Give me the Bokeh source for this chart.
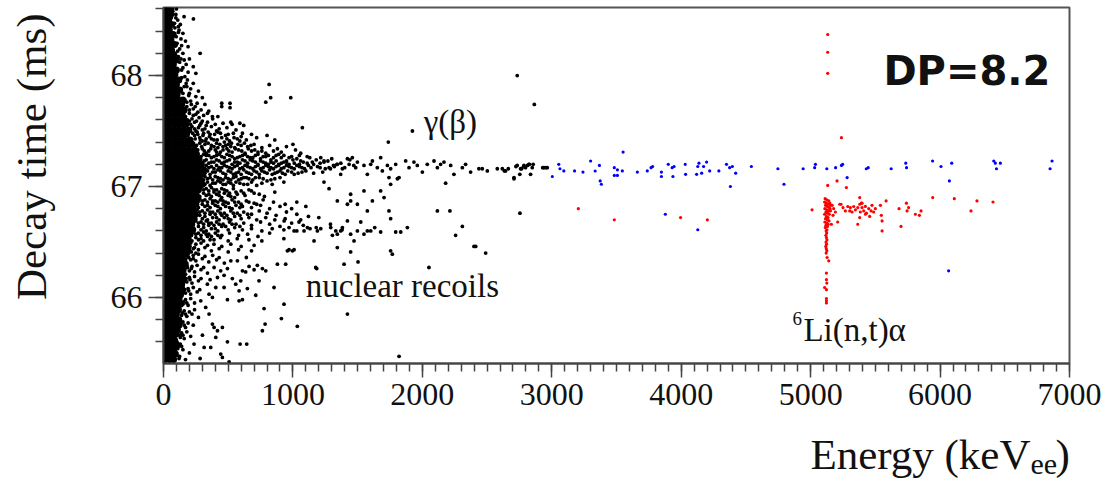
import math
from bokeh.plotting import figure
from bokeh.models import Range1d, SingleIntervalTicker, Label
from bokeh.layouts import row, column
from bokeh.embed import file_html
from bokeh.resources import INLINE

# ---------------- data ----------------
x_range = (0, 7000)
y_range = (65.405, 68.613)

# dense core of the event cloud near 0 keV: (decay time, [energies])
core_rows = [
    (68.59, [6, 38]), (68.55, [18, 55]), (68.50, [4, 40]), (68.46, [20, 62]), (68.41, [8, 45]),
    (68.37, [5, 40, 75]), (68.32, [22, 58]), (68.28, [8, 45, 85]), (68.23, [25, 62]),
    (68.19, [6, 42, 80]), (68.14, [20, 58, 98]), (68.10, [4, 40, 76]), (68.05, [24, 62, 100]), (68.01, [10, 48, 88]),
    (67.96, [5, 42, 80, 118]), (67.92, [22, 60, 100]), (67.87, [8, 46, 84, 125]), (67.83, [26, 64, 105]),
    (67.78, [6, 44, 82, 120, 150]), (67.74, [24, 62, 100, 140]), (67.69, [10, 48, 86, 126, 160]),
    (67.65, [28, 66, 104, 145]), (67.60, [4, 42, 80, 118, 156]),
    (67.56, [20, 58, 96, 134, 172]), (67.51, [6, 44, 82, 120, 158, 196]), (67.47, [26, 64, 102, 140, 178]),
    (67.42, [10, 48, 86, 124, 162, 205]),
    (67.38, [28, 66, 104, 142, 180, 220]), (67.33, [8, 46, 84, 122, 160, 198, 240]),
    (67.29, [24, 62, 100, 138, 176, 214, 255]), (67.24, [6, 44, 82, 120, 158, 196, 236, 275]),
    (67.20, [22, 60, 98, 136, 174, 212, 250, 292]), (67.15, [4, 42, 80, 118, 156, 194, 232, 272, 310]),
    (67.11, [26, 64, 102, 140, 178, 216, 256, 296]), (67.06, [10, 48, 86, 124, 162, 200, 240, 282]),
    (67.02, [28, 66, 104, 142, 180, 218, 262, 300]),
    (66.97, [6, 44, 82, 120, 158, 196, 236, 270]), (66.93, [24, 62, 100, 138, 176, 214, 252]),
    (66.88, [8, 46, 84, 122, 160, 198, 238, 262]), (66.84, [26, 64, 102, 140, 178, 216, 250]),
    (66.79, [4, 42, 80, 118, 156, 194, 232]), (66.75, [22, 60, 98, 136, 174, 212, 245]),
    (66.70, [10, 48, 86, 124, 162, 200, 228]), (66.66, [28, 66, 104, 142, 180, 218]),
    (66.61, [6, 44, 82, 120, 158, 196, 226]),
    (66.57, [24, 62, 100, 138, 176, 205]), (66.52, [8, 46, 84, 122, 160, 192]),
    (66.48, [26, 64, 102, 140, 178]), (66.43, [4, 42, 80, 118, 156, 188]),
    (66.39, [22, 60, 98, 136, 170]), (66.34, [8, 46, 84, 122, 158]), (66.30, [26, 64, 102, 140, 165]),
    (66.25, [6, 44, 82, 120, 152]), (66.21, [24, 62, 100, 138]),
    (66.16, [10, 48, 86, 124, 150]), (66.12, [28, 66, 104, 140]), (66.07, [4, 42, 80, 118, 145]),
    (66.03, [22, 60, 98, 132]),
    (65.98, [8, 46, 84, 120]), (65.94, [26, 64, 102, 130]), (65.89, [6, 44, 82, 115]),
    (65.85, [24, 62, 100]), (65.80, [10, 48, 86, 118]),
    (65.76, [28, 66, 100]), (65.71, [6, 44, 82, 108]), (65.67, [22, 60, 95]), (65.62, [8, 46, 84]),
    (65.58, [26, 64, 98]), (65.53, [4, 42, 80]), (65.49, [20, 58, 92]), (65.44, [8, 46, 78]),
]

# black events just outside the core, where the cloud is still dense: (energy keV, decay time ms)
black_inner = [
    (225, 67.48), (265, 67.47), (305, 67.46), (345, 67.49), (395, 67.47), (440, 67.48), (500, 67.47),
    (245, 67.43), (285, 67.42), (325, 67.41), (370, 67.43), (415, 67.42), (490, 67.43), (545, 67.44), (590, 67.41),
    (255, 67.37), (295, 67.36), (345, 67.39), (390, 67.36), (435, 67.38), (480, 67.37), (525, 67.39), (575, 67.38),
    (625, 67.39), (675, 67.37),
    (265, 67.33), (315, 67.32), (365, 67.34), (410, 67.31), (460, 67.33), (505, 67.32), (555, 67.34), (605, 67.32),
    (655, 67.34), (705, 67.33), (760, 67.32),
    (290, 67.27), (330, 67.28), (370, 67.26), (410, 67.28), (450, 67.27), (490, 67.29), (530, 67.27), (570, 67.26),
    (610, 67.28), (650, 67.27), (690, 67.26), (730, 67.29), (770, 67.27), (810, 67.28), (850, 67.26), (890, 67.29),
    (930, 67.28), (970, 67.26), (1050, 67.28), (1110, 67.27),
    (315, 67.23), (350, 67.21), (390, 67.22), (430, 67.23), (470, 67.22), (510, 67.24), (550, 67.22), (590, 67.21),
    (630, 67.23), (670, 67.24), (710, 67.22), (750, 67.23), (790, 67.21), (830, 67.22), (870, 67.23), (910, 67.21),
    (950, 67.22), (1000, 67.24), (1060, 67.23), (1150, 67.22), (1270, 67.23), (1340, 67.20),
    (350, 67.17), (390, 67.16), (430, 67.17), (470, 67.19), (510, 67.17), (550, 67.18), (590, 67.16), (630, 67.19),
    (670, 67.17), (710, 67.18), (750, 67.16), (790, 67.19), (830, 67.17), (870, 67.18), (910, 67.16), (950, 67.19),
    (990, 67.17), (1030, 67.19), (1070, 67.17), (1120, 67.19), (1210, 67.17), (1290, 67.16),
    (320, 67.12), (360, 67.11), (400, 67.13), (440, 67.14), (480, 67.11), (520, 67.13), (560, 67.12), (600, 67.11),
    (640, 67.13), (680, 67.11), (720, 67.13), (760, 67.14), (800, 67.12), (840, 67.11), (880, 67.13), (920, 67.12),
    (960, 67.14), (1010, 67.11), (1070, 67.13),
    (310, 67.06), (340, 67.07), (380, 67.06), (420, 67.08), (460, 67.06), (500, 67.07), (540, 67.08), (580, 67.06),
    (620, 67.08), (660, 67.07), (710, 67.08), (770, 67.07), (830, 67.06), (900, 67.08),
    (320, 67.02), (360, 67.01), (400, 67.03), (440, 67.04), (480, 67.02), (520, 67.03), (560, 67.04), (620, 67.02),
    (680, 67.04), (760, 67.03), (840, 67.02),
    (310, 66.97), (350, 66.96), (390, 66.97), (430, 66.95), (470, 66.97), (510, 66.94), (560, 66.95), (620, 66.94),
    (680, 66.96), (740, 66.93), (330, 66.92), (370, 66.91), (410, 66.93), (450, 66.90), (500, 66.92), (550, 66.90),
    (300, 66.87), (340, 66.86), (380, 66.87), (420, 66.86), (460, 66.87), (500, 66.85), (550, 66.86), (600, 66.84),
    (660, 66.86), (720, 66.84), (320, 66.82), (360, 66.81), (400, 66.83), (440, 66.80), (480, 66.82), (530, 66.80),
    (590, 66.81),
    (280, 66.77), (320, 66.76), (360, 66.77), (400, 66.75), (440, 66.76), (490, 66.74), (540, 66.76), (590, 66.74),
    (650, 66.75), (300, 66.71), (340, 66.70), (380, 66.72), (430, 66.70), (470, 66.72), (520, 66.70),
    (270, 66.67), (310, 66.66), (350, 66.67), (390, 66.65), (430, 66.66), (480, 66.64), (530, 66.66), (590, 66.64),
    (290, 66.61), (330, 66.60), (370, 66.62), (420, 66.60),
    (250, 66.57), (290, 66.56), (330, 66.57), (370, 66.55), (420, 66.56), (270, 66.52), (310, 66.51), (360, 66.52),
    (180, 67.76), (215, 67.74), (245, 67.72), (200, 67.69), (265, 67.67), (230, 67.64), (185, 67.60), (255, 67.59),
    (210, 67.56), (280, 67.55), (240, 67.52), (330, 67.55), (300, 67.59),
    (205, 66.46), (240, 66.45), (215, 66.41), (250, 66.40), (195, 66.36), (230, 66.35), (185, 66.27), (215, 66.26),
    (175, 66.17), (205, 66.16), (165, 66.07), (195, 66.06), (155, 65.96), (180, 65.95), (145, 65.86), (170, 65.85),
    (135, 65.76), (160, 65.75), (125, 65.66), (150, 65.66), (115, 65.56), (140, 65.56), (120, 65.45),
    (95, 68.52), (115, 68.39), (125, 68.24), (135, 68.15), (150, 68.07), (165, 67.99), (180, 67.90), (200, 67.84),
]

# remaining black events: (energy keV, decay time ms)
black_events = [
    (72, 68.58), (95, 68.55), (60, 68.52), (110, 68.50), (85, 68.47), (159, 68.53), (231, 68.51), (130, 68.46),
    (70, 68.60), (100, 68.60),
    (88, 68.43), (120, 68.41), (150, 68.38), (98, 68.35), (135, 68.33), (170, 68.31), (105, 68.29), (140, 68.27),
    (190, 68.26), (115, 68.44), (283, 68.20),
    (110, 68.22), (150, 68.20), (200, 68.15), (125, 68.12), (175, 68.10), (230, 68.08), (140, 68.05), (190, 68.03),
    (115, 68.17), (250, 68.02), (160, 68.14),
    (140, 67.98), (185, 67.96), (230, 67.93), (160, 67.90), (210, 67.88), (270, 67.86), (150, 67.84), (195, 67.82),
    (250, 67.81), (300, 67.80), (175, 67.93), (135, 67.88),
    (378, 67.63), (450, 67.75), (450, 67.72), (514, 67.75), (514, 67.71), (816, 67.92), (828, 67.80), (790, 67.76),
    (983, 67.80), (1073, 67.53), (1737, 67.40), (1923, 67.50), (2733, 68.00), (2865, 67.74),
    (165, 67.78), (210, 67.77), (260, 67.75), (320, 67.74), (180, 67.72), (230, 67.70), (290, 67.69), (350, 67.68),
    (200, 67.66), (250, 67.65), (310, 67.64), (170, 67.63), (275, 67.62), (380, 67.61), (220, 67.61), (340, 67.66),
    (420, 67.63), (150, 67.68),
    (200, 67.59), (240, 67.58), (290, 67.57), (340, 67.58), (400, 67.56), (460, 67.57), (520, 67.58), (590, 67.57),
    (220, 67.54), (270, 67.53), (320, 67.52), (370, 67.54), (430, 67.52), (490, 67.53), (560, 67.51), (620, 67.55),
    (250, 67.50), (410, 67.50), (300, 67.51), (530, 67.56),
    (260, 67.49), (310, 67.48), (360, 67.47), (420, 67.49), (480, 67.46), (540, 67.48), (600, 67.45), (680, 67.47),
    (280, 67.44), (330, 67.43), (390, 67.42), (450, 67.44), (510, 67.41), (570, 67.43), (640, 67.42), (720, 67.44),
    (800, 67.46), (300, 67.41), (470, 67.40), (860, 67.42), (355, 67.45), (610, 67.48), (240, 67.46),
    (280, 67.39), (320, 67.38), (370, 67.37), (410, 67.39), (460, 67.36), (500, 67.38), (550, 67.35), (600, 67.37),
    (650, 67.36), (700, 67.38), (760, 67.35), (820, 67.37), (880, 67.34), (950, 67.36), (1020, 67.33), (300, 67.34),
    (350, 67.32), (400, 67.33), (440, 67.31), (490, 67.34), (530, 67.31), (580, 67.33), (630, 67.30), (680, 67.32),
    (730, 67.31), (790, 67.30), (850, 67.32), (910, 67.31), (1060, 67.30), (330, 67.30), (420, 67.35), (520, 67.36),
    (1000, 67.38),
    (310, 67.29), (350, 67.28), (390, 67.27), (430, 67.29), (470, 67.26), (510, 67.28), (550, 67.25), (590, 67.27),
    (630, 67.29), (670, 67.26), (710, 67.28), (750, 67.25), (790, 67.27), (830, 67.24), (870, 67.28), (910, 67.26),
    (950, 67.23), (990, 67.27), (1030, 67.25), (1080, 67.22), (1130, 67.26), (1180, 67.24), (1240, 67.22),
    (1300, 67.25), (1370, 67.21), (1440, 67.24), (330, 67.24), (370, 67.22), (410, 67.24), (450, 67.21),
    (490, 67.23), (530, 67.20), (570, 67.22), (610, 67.24), (650, 67.21), (690, 67.23), (730, 67.20), (770, 67.22),
    (810, 67.20), (850, 67.21), (890, 67.20), (930, 67.22), (970, 67.20), (1010, 67.21), (1050, 67.20),
    (1110, 67.21), (1160, 67.20), (1210, 67.21),
    (330, 67.19), (370, 67.18), (410, 67.19), (450, 67.17), (490, 67.18), (530, 67.16), (570, 67.19), (610, 67.17),
    (650, 67.18), (690, 67.16), (730, 67.19), (770, 67.17), (810, 67.18), (850, 67.16), (890, 67.19), (930, 67.17),
    (970, 67.18), (1010, 67.16), (1050, 67.18), (1090, 67.16), (1140, 67.17), (1190, 67.18), (1250, 67.16),
    (1320, 67.18), (1400, 67.17), (1470, 67.19), (340, 67.14), (380, 67.13), (420, 67.15), (460, 67.12),
    (500, 67.14), (540, 67.11), (580, 67.13), (620, 67.15), (660, 67.12), (700, 67.14), (740, 67.11), (780, 67.13),
    (820, 67.15), (860, 67.12), (900, 67.14), (940, 67.11), (990, 67.13), (1040, 67.12), (1100, 67.14),
    (1160, 67.12), (1230, 67.13),
    (320, 67.09), (360, 67.08), (400, 67.09), (440, 67.07), (480, 67.08), (520, 67.06), (560, 67.09), (600, 67.07),
    (640, 67.08), (690, 67.06), (740, 67.08), (800, 67.05), (860, 67.07), (930, 67.04), (340, 67.04), (380, 67.03),
    (420, 67.05), (460, 67.02), (500, 67.04), (540, 67.01), (590, 67.03), (650, 67.02), (720, 67.01), (300, 67.01),
    (290, 66.99), (330, 66.98), (370, 66.99), (410, 66.97), (450, 66.98), (490, 66.96), (540, 66.98), (600, 66.96),
    (660, 66.97), (310, 66.94), (350, 66.93), (390, 66.95), (430, 66.92), (470, 66.94), (520, 66.91), (570, 66.93),
    (630, 66.92), (700, 66.94), (780, 66.91), (280, 66.91), (860, 66.95),
    (280, 66.89), (320, 66.88), (360, 66.89), (400, 66.87), (440, 66.88), (480, 66.86), (530, 66.88), (580, 66.86),
    (640, 66.87), (700, 66.85), (770, 66.88), (850, 66.86), (940, 66.84), (1030, 66.86), (300, 66.84),
    (340, 66.83), (380, 66.85), (420, 66.82), (460, 66.84), (510, 66.81), (560, 66.83), (610, 66.82), (680, 66.81),
    (750, 66.83), (820, 66.80), (900, 66.82), (990, 66.80), (1100, 66.82), (270, 66.81),
    (260, 66.79), (300, 66.78), (340, 66.79), (380, 66.77), (420, 66.78), (470, 66.76), (520, 66.78), (570, 66.76),
    (620, 66.77), (680, 66.75), (740, 66.78), (800, 66.76), (870, 66.74), (950, 66.77), (1030, 66.75),
    (1120, 66.73), (280, 66.74), (320, 66.73), (360, 66.75), (410, 66.72), (450, 66.74), (500, 66.71), (550, 66.73),
    (600, 66.71), (660, 66.72), (720, 66.70), (790, 66.72), (860, 66.70), (940, 66.71), (1060, 66.70),
    (1200, 66.72), (250, 66.71),
    (250, 66.69), (290, 66.68), (330, 66.69), (370, 66.67), (410, 66.68), (460, 66.66), (510, 66.68), (560, 66.66),
    (620, 66.67), (680, 66.65), (750, 66.68), (820, 66.66), (900, 66.64), (990, 66.67), (1080, 66.65),
    (1180, 66.63), (1290, 66.66), (270, 66.64), (310, 66.63), (350, 66.65), (400, 66.62), (450, 66.64),
    (500, 66.61), (550, 66.63), (610, 66.61), (680, 66.62), (760, 66.60), (840, 66.62), (930, 66.61),
    (1030, 66.60), (1380, 66.61),
    (230, 66.59), (270, 66.58), (310, 66.59), (350, 66.57), (400, 66.58), (450, 66.56), (510, 66.58), (580, 66.56),
    (650, 66.57), (730, 66.55), (820, 66.58), (250, 66.54), (290, 66.53), (340, 66.55), (390, 66.52), (440, 66.54),
    (500, 66.51), (570, 66.53), (660, 66.52), (760, 66.51), (930, 66.53), (220, 66.51),
    (210, 66.49), (250, 66.48), (290, 66.49), (340, 66.47), (390, 66.48), (450, 66.46), (520, 66.48), (600, 66.46),
    (700, 66.47), (230, 66.44), (270, 66.43), (320, 66.45), (370, 66.42), (430, 66.44), (500, 66.41), (580, 66.43),
    (970, 66.43), (1009, 66.43), (680, 66.42), (200, 66.41),
    (190, 66.39), (230, 66.38), (270, 66.39), (320, 66.37), (380, 66.38), (430, 66.36), (520, 66.33), (571, 66.33),
    (210, 66.34), (250, 66.33), (300, 66.35), (350, 66.32), (410, 66.34), (470, 66.31), (880, 66.30), (944, 66.30),
    (180, 66.31), (640, 66.36),
    (180, 66.29), (220, 66.28), (260, 66.29), (310, 66.27), (391, 66.27), (442, 66.24), (494, 66.26), (610, 66.24),
    (635, 66.23), (661, 66.28), (700, 66.25), (725, 66.29), (764, 66.26), (790, 66.24), (200, 66.24), (240, 66.23),
    (290, 66.25), (340, 66.22), (468, 66.20), (1184, 66.26), (170, 66.21),
    (160, 66.19), (200, 66.18), (240, 66.19), (290, 66.17), (417, 66.18), (532, 66.17), (597, 66.15), (738, 66.15),
    (180, 66.14), (220, 66.13), (270, 66.15), (339, 66.12), (558, 66.12), (150, 66.11), (360, 66.16),
    (150, 66.09), (190, 66.08), (230, 66.09), (280, 66.07), (404, 66.09), (468, 66.09), (584, 66.06), (648, 66.08),
    (854, 66.09), (713, 66.02), (170, 66.04), (210, 66.03), (260, 66.05), (352, 66.03), (140, 66.01), (378, 66.00),
    (494, 65.98), (584, 65.97), (610, 65.98),
    (130, 65.99), (170, 65.98), (210, 65.99), (288, 65.97), (150, 65.94), (190, 65.93), (240, 65.95), (326, 65.91),
    (931, 65.94), (777, 65.90), (120, 65.91),
    (125, 65.89), (160, 65.88), (200, 65.87), (240, 65.89), (352, 65.85), (140, 65.84), (180, 65.83), (220, 65.85),
    (911, 65.81), (110, 65.81), (270, 65.82), (1421, 65.85),
    (110, 65.79), (150, 65.78), (190, 65.77), (378, 65.76), (391, 65.73), (417, 65.70), (455, 65.73), (785, 65.76),
    (1034, 65.74), (764, 65.70), (130, 65.74), (170, 65.73), (230, 65.75), (105, 65.71),
    (110, 65.69), (140, 65.68), (180, 65.69), (301, 65.66), (404, 65.64), (130, 65.64), (160, 65.63), (210, 65.65),
    (494, 65.60), (592, 65.58), (643, 65.58), (100, 65.61),
    (100, 65.59), (130, 65.58), (236, 65.58), (314, 65.55), (365, 65.55), (110, 65.54), (150, 65.53), (442, 65.49),
    (455, 65.46), (283, 65.45), (507, 65.42), (95, 65.49), (125, 65.47), (170, 65.44), (200, 65.50), (1820, 65.47),
    # gamma band towards high energy
    (1215, 67.26), (1240, 67.23), (1279, 67.17), (1313, 67.19), (1343, 67.20), (1382, 67.16), (1421, 67.25),
    (1434, 67.20), (1459, 67.26), (1485, 67.17), (1498, 67.22), (1549, 67.19), (1575, 67.11), (1601, 67.20),
    (1614, 67.23), (1652, 67.17), (1678, 67.26), (1691, 67.14), (1730, 67.19), (1755, 67.16), (1794, 67.20),
    (1820, 67.08), (1871, 67.23), (1897, 67.17), (1935, 67.22), (1961, 67.19), (2000, 67.13), (2038, 67.20),
    (2090, 67.23), (2116, 67.17), (2141, 67.20), (2167, 67.22), (2219, 67.19), (2244, 67.11), (2309, 67.17),
    (2334, 67.20), (2373, 67.13), (2437, 67.16), (2463, 67.16), (2502, 67.14), (2579, 67.16), (2618, 67.16),
    (2643, 67.14), (2708, 67.08), (2733, 67.19), (2759, 67.16), (2785, 67.19), (2823, 67.20), (2836, 67.11),
    (2849, 67.17), (2939, 67.17), (2965, 67.17), (2634, 67.14), (2664, 67.16), (2708, 67.07), (2723, 67.18),
    (2753, 67.11), (2767, 67.16), (2782, 67.18), (2797, 67.17), (2812, 67.19), (2827, 67.20), (2856, 67.20),
    (2930, 67.17), (2954, 67.17),
    (1240, 67.04), (1369, 67.11), (1446, 66.87), (1549, 66.96), (1614, 66.87), (1678, 66.96), (1742, 67.08),
    (1755, 67.02), (2180, 67.03), (1704, 66.90), (1807, 67.07), (1742, 66.78), (1755, 66.71),
    (1279, 66.98), (1343, 66.87), (1421, 66.84), (1498, 66.84), (1575, 66.78), (1446, 66.93),
    # nuclear recoil branch
    (932, 66.69), (970, 66.63), (1009, 66.60), (1047, 66.68), (1086, 66.60), (1112, 66.63), (1132, 66.62),
    (1163, 66.51), (1189, 66.60), (1215, 66.62), (1292, 66.63), (1305, 66.56), (1331, 66.60), (1343, 66.57),
    (1369, 66.60), (1382, 66.63), (1421, 66.69), (1446, 66.57), (1472, 66.51), (1498, 66.60), (1524, 66.68),
    (1549, 66.57), (1575, 66.60), (1601, 66.60), (1632, 66.63), (1678, 66.59), (1794, 66.59), (1833, 66.59),
    (1884, 66.63), (1446, 66.41), (1503, 66.32), (1395, 66.30), (1343, 66.45), (1755, 66.42), (1768, 66.39),
    (957, 66.42), (996, 66.42), (1176, 66.27),
    (2051, 66.27), (2116, 66.78), (2213, 66.78), (2257, 66.56), (2309, 66.64), (2399, 66.46), (2412, 66.46),
    (2489, 66.40), (2754, 66.76),
]

# electron-recoil events above 3 MeV (blue)
blue_events = [
    (3004, 67.09), (3054, 67.20), (3063, 67.16), (3093, 67.14), (3176, 67.14), (3241, 67.13), (3300, 67.23),
    (3335, 67.14), (3368, 67.19), (3374, 67.05), (3383, 67.02), (3483, 67.17), (3483, 67.10), (3507, 67.10),
    (3507, 67.15), (3545, 67.14), (3551, 67.31), (3661, 67.13), (3738, 67.14), (3767, 67.17), (3779, 67.18),
    (3847, 67.13), (3847, 67.09), (3900, 67.20), (3930, 67.17), (3936, 67.09), (3945, 67.18), (4031, 67.20),
    (4034, 67.11), (4119, 67.11), (4128, 67.18), (4137, 67.21), (4158, 67.12), (4173, 67.18), (4196, 67.22),
    (4220, 67.14), (4291, 67.14), (4350, 67.20), (4374, 67.17), (4380, 67.00), (4395, 67.18), (4421, 67.12),
    (4542, 67.18), (4747, 67.16), (4794, 67.02), (4942, 67.16), (5031, 67.17), (5037, 67.20), (5125, 67.16),
    (5193, 67.17), (5238, 67.19), (5247, 67.20), (5282, 67.08), (5430, 67.16), (5445, 67.17), (5622, 67.16),
    (5735, 67.21), (5741, 67.17), (5942, 67.23), (6007, 67.18), (6072, 67.05), (6090, 67.21), (6415, 67.23),
    (6427, 67.21), (6436, 67.16), (6466, 67.21), (6850, 67.16), (6865, 67.23), (3877, 66.75), (4128, 66.61),
    (6066, 66.24),
]

# 6Li(n,t)alpha and other alpha-like events (red)
red_events = [
    (5132, 68.37), (5132, 68.21), (5132, 68.02), (5238, 67.44), (5204, 67.05), (5276, 66.99), (5132, 67.01),
    (3205, 66.80), (3483, 66.70), (3995, 66.72), (4202, 66.70), (5011, 66.79), (5379, 66.90), (5583, 66.87),
    (5943, 66.90), (6110, 66.89), (6285, 66.87), (6409, 66.86), (6239, 66.78), (5698, 66.64), (5552, 66.60),
    (5552, 66.69), (5546, 66.74), (5539, 66.83), (5683, 66.80), (5740, 66.85), (5757, 66.81), (5745, 66.78),
    (5809, 66.75), (5840, 66.74), (5853, 66.78), (5364, 66.66), (5209, 66.68), (5160, 66.66),
    (5166, 66.83), (5178, 66.80), (5191, 66.77), (5225, 66.84), (5235, 66.84), (5250, 66.81), (5268, 66.78),
    (5287, 66.82), (5302, 66.78), (5307, 66.81), (5320, 66.77), (5333, 66.82), (5346, 66.79), (5364, 66.81),
    (5379, 66.84), (5384, 66.77), (5397, 66.81), (5397, 66.85), (5410, 66.78), (5423, 66.82), (5431, 66.76),
    (5449, 66.80), (5467, 66.78), (5474, 66.83), (5487, 66.77), (5500, 66.80), (5379, 66.72), (5423, 66.75),
    (5456, 66.73), (5392, 66.85), (5173, 66.74), (5153, 66.83), (5153, 66.78),
    (5112, 66.89), (5125, 66.88), (5140, 66.87), (5108, 66.86), (5122, 66.85), (5135, 66.84), (5148, 66.85),
    (5115, 66.83), (5128, 66.82), (5142, 66.81), (5110, 66.80), (5124, 66.79), (5137, 66.78), (5150, 66.80),
    (5118, 66.77), (5130, 66.76), (5144, 66.75), (5108, 66.75), (5122, 66.73), (5135, 66.72), (5115, 66.71),
    (5128, 66.70), (5142, 66.69), (5110, 66.68), (5124, 66.67), (5136, 66.66), (5118, 66.65), (5130, 66.64),
    (5113, 66.63), (5126, 66.61),
    (5120, 66.60), (5124, 66.58), (5118, 66.56), (5122, 66.54), (5126, 66.52), (5119, 66.50), (5123, 66.48),
    (5117, 66.46), (5121, 66.44), (5125, 66.42), (5120, 66.40), (5127, 66.36), (5140, 66.33), (5122, 66.22),
    (5122, 66.16), (5125, 66.13), (5108, 66.09), (5122, 66.07), (5122, 65.99), (5122, 65.97), (5122, 65.95),
]

x_tick_interval = 1000
y_tick_interval = 1

x_title = "Energy (keV"
x_title_sub = "ee"
y_title = "Decay time (ms)"

# ---------------- figures ----------------
SERIF = "Liberation Serif"
BASE = 0.37  # alphabetic baseline sits this many em below the anchor in the rendered text


def blank(width, height, xr, yr):
    f = figure(width=width, height=height, output_backend="svg", toolbar_location=None,
               x_range=Range1d(*xr), y_range=Range1d(*yr), x_axis_location=None, y_axis_location=None,
               min_border=0)
    f.outline_line_color = None
    f.grid.visible = False
    f.background_fill_color = "white"
    f.border_fill_color = "white"
    return f


def add_label(fig, x, y, text, size, font=SERIF, align="left", style="normal", angle=0.0):
    fig.add_layout(Label(x=x, y=y, text=text, text_font=font, text_font_size=f"{size}px",
                         text_align=align, text_baseline="alphabetic", text_font_style=style,
                         text_color="#111111", angle=angle))


LEFT_W = 60
MAIN_H = 430
TOTAL_W, TOTAL_H = 1104, 485
FRAME_L, FRAME_R = 163, 1069   # the bottom strip's frame is aligned with the main plot frame

# left strip with the rotated y title (pixel coordinates, y downward)
left = blank(LEFT_W, TOTAL_H, (0, LEFT_W), (TOTAL_H, 0))
add_label(left, 47 - BASE * 43, 13, y_title, 43, align="right", angle=math.pi / 2)

# main plot
p = figure(width=TOTAL_W - LEFT_W, height=MAIN_H, output_backend="svg", toolbar_location=None,
           x_range=Range1d(*x_range), y_range=Range1d(*y_range),
           min_border_left=FRAME_L - LEFT_W, min_border_right=TOTAL_W - FRAME_R, min_border_top=7,
           min_border_bottom=MAIN_H - 7 - 356)
p.background_fill_color = "white"
p.border_fill_color = "white"
p.outline_line_color = "#555555"
p.outline_line_width = 2
p.grid.visible = False

core_e = [e for t, es in core_rows for e in es]
core_t = [t for t, es in core_rows for e in es]
p.scatter(core_e, core_t, size=7, marker="circle", fill_color="black", line_color=None)
p.scatter([e for e, t in black_inner], [t for e, t in black_inner], size=3.8, marker="circle",
          fill_color="black", line_color=None)
p.scatter([e for e, t in black_events], [t for e, t in black_events], size=3.8, marker="circle",
          fill_color="black", line_color=None)
p.scatter([e for e, t in blue_events], [t for e, t in blue_events], size=3.2, marker="circle",
          fill_color="#0000ff", line_color=None)
p.scatter([e for e, t in red_events], [t for e, t in red_events], size=3.2, marker="circle",
          fill_color="#ff0000", line_color=None)

p.xaxis.ticker = SingleIntervalTicker(interval=x_tick_interval, num_minor_ticks=10)
p.yaxis.ticker = SingleIntervalTicker(interval=y_tick_interval, num_minor_ticks=5)
for ax in (p.xaxis, p.yaxis):
    ax.axis_line_color = "#444444"
    ax.axis_line_width = 2
    ax.major_tick_line_color = "#444444"
    ax.minor_tick_line_color = "#444444"
    ax.major_tick_line_width = 1.5
    ax.minor_tick_line_width = 1.5
    ax.major_tick_in = 0
    ax.minor_tick_in = 0
    ax.minor_tick_out = 8
    ax.major_label_text_font = SERIF
    ax.major_label_text_font_size = "32px"
    ax.major_label_text_color = "#111111"
p.xaxis.major_tick_out = 14
p.yaxis.major_tick_out = 15
p.xaxis.major_label_standoff = 6
p.yaxis.major_label_standoff = 6

# in-plot annotations (data coordinates)
add_label(p, 2010, 67.468 + BASE * 33 / 111, "γ(β)", 33)
add_label(p, 1099, 65.99 + BASE * 33 / 111, "nuclear recoils", 33)
add_label(p, 4859, 65.748 + BASE * 19 / 111, "6", 19)
add_label(p, 4944, 65.595 + BASE * 33 / 111, "Li(n,t)α", 33)
add_label(p, 5562, 67.91 + BASE * 40 / 111, "DP=8.2", 40, font="DejaVu Sans", style="bold")

# bottom strip with the x title (its frame spans the main frame; data = picture pixels)
bottom = blank(TOTAL_W - LEFT_W, TOTAL_H - MAIN_H, (FRAME_L, FRAME_R), (TOTAL_H, MAIN_H))
add_label(bottom, 1030, 470 - BASE * 43, x_title, 43, align="right")
add_label(bottom, 1030, 475 - BASE * 30, x_title_sub, 30)
add_label(bottom, 1055, 470 - BASE * 43, ")", 43)

layout = row(left, column(p, bottom))
open("out.html", "w").write(file_html(layout, INLINE))
